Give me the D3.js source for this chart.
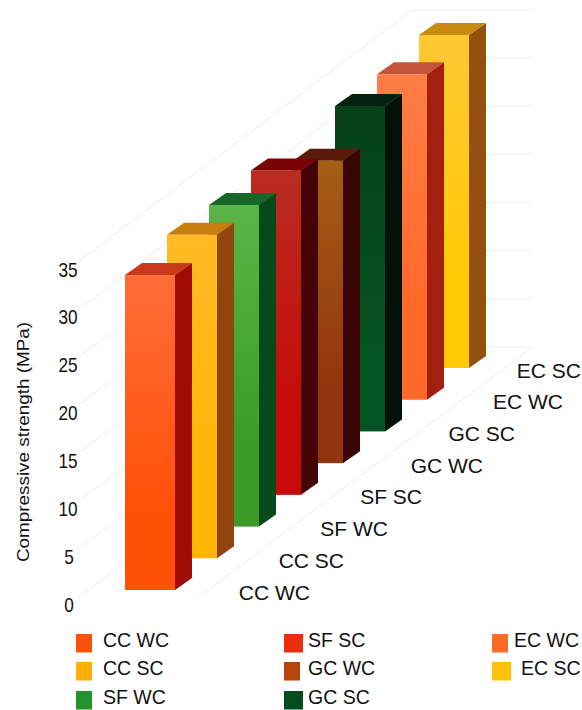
<!DOCTYPE html>
<html><head><meta charset="utf-8">
<script src="https://cdn.jsdelivr.net/npm/d3@7/dist/d3.min.js"></script>
<style>html,body{margin:0;padding:0;background:#fff}svg{display:block}text{font-family:"Liberation Sans",Arial,sans-serif;fill:#111}</style>
</head><body><svg id="c" width="582" height="710"></svg>
<script>
const categories=["CC WC","CC SC","SF WC","SF SC","GC WC","GC SC","EC WC","EC SC"];
const values=[33,33.9,33.7,34,31.7,34.1,34.1,34.9];
const yTicks=[0,5,10,15,20,25,30,35];
const frontTop=["#ff6c38","#ffb924","#5cb448","#b82c22","#a65e14","#07401a","#ff7d47","#ffc733"];
const frontBottom=["#ff5008","#ffb505","#3c9b27","#c80a06","#92340f","#055222","#ff6828","#ffc905"];
const sideColors=["#a00d08","#93450f","#044a1c","#440405","#380404","#021208","#a32010","#95500f"];
const capColors=["#c93a1c","#c87d10","#17662a","#7a0205","#5a1c0a","#04200f","#c4533a","#c98a10"];
const legendColors=["#ff5209","#ffae08","#22932f","#e92e0e","#b9430c","#034c20","#ff6a25","#ffc107"];
const legendLabels=["CC WC","CC SC","SF WC","SF SC","GC WC","GC SC","EC WC","EC SC"];

const svg=d3.select("#c");
const defs=svg.append("defs");
const barW=50,depthX=17,depthY=12;
const x=d3.scalePoint(categories,[125,419]);
const floorY=d3.scalePoint(categories,[590,368]);
const h=d3.scaleLinear([0,35],[0,334]);
const wallLeft=d3.scaleLinear([0,35],[598,263]);
const wallBack=d3.scaleLinear([0,35],[347,10]);
const grid=svg.append("g").attr("fill","none").attr("stroke","#f2f2f2").attr("stroke-width",1.2);
yTicks.forEach(t=>{
  grid.append("path").attr("d",`M77,${wallLeft(t)}L412,${wallBack(t)}L533,${wallBack(t)}`);
});
grid.append("path").attr("d",`M197,${wallLeft(0)}L533,${wallBack(0)}`);

categories.forEach((c,i)=>{
  const g=defs.append("linearGradient").attr("id","g"+i).attr("x1",0).attr("y1",0).attr("x2",0).attr("y2",1);
  g.append("stop").attr("offset","0%").attr("stop-color",frontTop[i]);
  g.append("stop").attr("offset","75%").attr("stop-color",frontBottom[i]);
});
const order=d3.range(categories.length).reverse();
const bars=svg.append("g").selectAll("g").data(order).join("g");
bars.each(function(i){
  const g=d3.select(this),x0=x(categories[i]),b=floorY(categories[i]),t=b-h(values[i]),r=x0+barW;
  g.append("path").attr("fill",sideColors[i]).attr("d",`M${r},${t}L${r+depthX},${t-depthY}L${r+depthX},${b-depthY}L${r},${b}Z`);
  g.append("path").attr("fill",capColors[i]).attr("d",`M${x0},${t}L${x0+depthX},${t-depthY}L${r+depthX},${t-depthY}L${r},${t}Z`);
  g.append("rect").attr("x",x0).attr("y",t).attr("width",barW).attr("height",b-t).attr("fill",`url(#g${i})`);
});

// y tick labels
const tickX=69;
svg.append("g").selectAll("text").data(yTicks).join("text")
  .attr("text-anchor","middle")
  .attr("transform",t=>`translate(${t<10?tickX:tickX-1},${wallLeft(t)+13.5}) scale(0.86,1)`)
  .attr("font-size",20).text(d=>d);
svg.append("text").attr("transform","translate(29,442) rotate(-90)").attr("text-anchor","middle")
  .attr("font-size",17).attr("textLength",240).attr("lengthAdjust","spacingAndGlyphs").text("Compressive strength (MPa)");

// category labels
const labelRight=d3.scaleOrdinal(categories,[310,344,388,422,483,515,563,581]);
svg.append("g").selectAll("text").data(categories).join("text")
  .attr("x",c=>labelRight(c)).attr("y",c=>floorY(c)+9.5).attr("text-anchor","end").attr("font-size",21).text(c=>c);

// legend
const legX=[76,76,76,284,284,284,492,492],legTextX=[103,103,103,308,308,308,514,521],legY=[634,662,691,634,662,691,634,662];
const legW=[16,16,16,19,16,19,16,19];
const leg=svg.append("g").selectAll("g").data(legendLabels).join("g");
leg.append("rect").attr("x",(d,i)=>legX[i]).attr("y",(d,i)=>legY[i]).attr("width",(d,i)=>legW[i]).attr("height",18.5).attr("fill",(d,i)=>legendColors[i]);
leg.append("text").attr("x",(d,i)=>legTextX[i]).attr("y",(d,i)=>legY[i]+13).attr("font-size",19.5).text(d=>d);
</script></body></html>
